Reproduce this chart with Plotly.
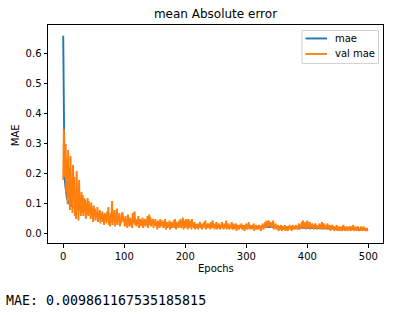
import plotly.graph_objects as go

val_mae = [
    0.18, 0.35, 0.27, 0.19, 0.30, 0.14, 0.25, 0.10, 0.28, 0.12,
    0.22, 0.08, 0.26, 0.10, 0.17, 0.07, 0.23, 0.12, 0.19, 0.06,
    0.15, 0.05, 0.21, 0.09, 0.13, 0.045, 0.18, 0.08, 0.12, 0.06,
    0.14, 0.07, 0.13, 0.06, 0.12, 0.08, 0.115, 0.05, 0.10, 0.065,
    0.12, 0.06, 0.11, 0.07, 0.09, 0.05, 0.105, 0.065, 0.08, 0.04,
    0.095, 0.06, 0.085, 0.045, 0.075, 0.055, 0.09, 0.04, 0.07, 0.05,
    0.08, 0.035, 0.065, 0.055, 0.075, 0.04, 0.06, 0.03, 0.07, 0.045,
    0.065, 0.035, 0.075, 0.05, 0.09, 0.03, 0.06, 0.025, 0.07, 0.04,
    0.11, 0.03, 0.065, 0.045, 0.08, 0.025, 0.055, 0.04, 0.085, 0.03,
    0.06, 0.045, 0.07, 0.025, 0.05, 0.035, 0.065, 0.072, 0.055, 0.04,
    0.045, 0.025, 0.06, 0.03, 0.05, 0.02, 0.065, 0.035, 0.04, 0.025,
    0.055, 0.03, 0.045, 0.02, 0.07, 0.035, 0.06, 0.075, 0.03, 0.05,
    0.025, 0.045, 0.035, 0.06, 0.02, 0.04, 0.05, 0.025, 0.045, 0.03,
    0.055, 0.02, 0.04, 0.035, 0.05, 0.025, 0.045, 0.03, 0.06, 0.02,
    0.04, 0.065, 0.03, 0.055, 0.025, 0.045, 0.035, 0.05, 0.02, 0.04,
    0.03, 0.05, 0.025, 0.04, 0.015, 0.045, 0.03, 0.035, 0.02, 0.05,
    0.025, 0.04, 0.03, 0.045, 0.02, 0.035, 0.025, 0.05, 0.015, 0.03,
    0.04, 0.02, 0.035, 0.025, 0.045, 0.015, 0.03, 0.04, 0.02, 0.035,
    0.025, 0.045, 0.02, 0.05, 0.03, 0.015, 0.04, 0.025, 0.035, 0.02,
    0.045, 0.025, 0.05, 0.02, 0.04, 0.03, 0.055, 0.015, 0.035, 0.045,
    0.02, 0.05, 0.025, 0.045, 0.015, 0.05, 0.02, 0.04, 0.03, 0.045,
    0.015, 0.05, 0.025, 0.035, 0.02, 0.04, 0.015, 0.03, 0.025, 0.02,
    0.035, 0.015, 0.03, 0.025, 0.04, 0.02, 0.03, 0.015, 0.035, 0.025,
    0.02, 0.04, 0.025, 0.045, 0.015, 0.03, 0.02, 0.035, 0.025, 0.02,
    0.035, 0.015, 0.04, 0.02, 0.03, 0.045, 0.02, 0.035, 0.015, 0.03,
    0.025, 0.04, 0.015, 0.03, 0.02, 0.035, 0.025, 0.015, 0.03, 0.02,
    0.04, 0.02, 0.03, 0.015, 0.035, 0.025, 0.02, 0.045, 0.015, 0.03,
    0.02, 0.035, 0.015, 0.025, 0.03, 0.02, 0.04, 0.015, 0.025, 0.035,
    0.015, 0.03, 0.02, 0.035, 0.01, 0.025, 0.02, 0.03, 0.015, 0.025,
    0.03, 0.02, 0.035, 0.015, 0.025, 0.02, 0.03, 0.01, 0.025, 0.02,
    0.035, 0.015, 0.025, 0.02, 0.04, 0.015, 0.03, 0.02, 0.025, 0.015,
    0.03, 0.02, 0.035, 0.01, 0.025, 0.02, 0.03, 0.015, 0.02, 0.025,
    0.015, 0.03, 0.02, 0.025, 0.01, 0.03, 0.02, 0.035, 0.015, 0.025,
    0.02, 0.04, 0.025, 0.045, 0.02, 0.04, 0.03, 0.045, 0.025, 0.035,
    0.04, 0.02, 0.035, 0.025, 0.045, 0.015, 0.03, 0.02, 0.035, 0.015,
    0.025, 0.02, 0.03, 0.01, 0.025, 0.015, 0.02, 0.03, 0.01, 0.02,
    0.025, 0.015, 0.02, 0.03, 0.01, 0.025, 0.015, 0.02, 0.01, 0.025,
    0.02, 0.03, 0.015, 0.025, 0.01, 0.02, 0.03, 0.015, 0.02, 0.025,
    0.015, 0.03, 0.02, 0.025, 0.015, 0.02, 0.035, 0.015, 0.025, 0.02,
    0.03, 0.04, 0.02, 0.045, 0.025, 0.035, 0.02, 0.04, 0.015, 0.03,
    0.045, 0.02, 0.035, 0.025, 0.04, 0.015, 0.03, 0.025, 0.035, 0.02,
    0.03, 0.015, 0.025, 0.035, 0.02, 0.03, 0.015, 0.025, 0.02, 0.03,
    0.035, 0.015, 0.03, 0.02, 0.04, 0.015, 0.025, 0.035, 0.02, 0.03,
    0.015, 0.03, 0.02, 0.035, 0.015, 0.025, 0.02, 0.03, 0.01, 0.025,
    0.02, 0.03, 0.015, 0.025, 0.01, 0.02, 0.025, 0.015, 0.03, 0.01,
    0.02, 0.015, 0.025, 0.01, 0.02, 0.015, 0.025, 0.01, 0.02, 0.03,
    0.015, 0.025, 0.01, 0.02, 0.015, 0.025, 0.01, 0.02, 0.015, 0.025,
    0.02, 0.01, 0.025, 0.015, 0.02, 0.03, 0.01, 0.02, 0.015, 0.025,
    0.01, 0.02, 0.015, 0.025, 0.01, 0.02, 0.015, 0.01, 0.025, 0.015,
    0.02, 0.01, 0.025, 0.015, 0.02, 0.01, 0.015, 0.02, 0.01, 0.015,
]
val_epochs = list(range(len(val_mae)))

mae_epochs = [0, 1, 2, 3, 4, 5, 6, 7, 8, 9, 10, 15, 20, 25, 30, 35, 40, 45, 50,
              55, 60, 65, 70, 75, 80, 85, 90, 95, 100, 110, 120, 130, 140, 150,
              160, 170, 180, 190, 200, 220, 240, 260, 280, 300, 320, 340, 360,
              380, 400, 420, 440, 460, 480, 499]
mae = [0.66, 0.30, 0.21, 0.17, 0.15, 0.13, 0.12, 0.115, 0.11, 0.105, 0.10,
       0.093, 0.088, 0.083, 0.079, 0.077, 0.073, 0.071, 0.068, 0.065, 0.063,
       0.060, 0.058, 0.056, 0.054, 0.052, 0.050, 0.049, 0.047, 0.044, 0.042,
       0.040, 0.038, 0.036, 0.035, 0.034, 0.032, 0.031, 0.030, 0.029, 0.028,
       0.027, 0.026, 0.025, 0.024, 0.023, 0.022, 0.021, 0.020, 0.019, 0.018,
       0.017, 0.017, 0.016]

series_names = ["mae", "val mae"]
series_colors = ["#1f77b4", "#ff7f0e"]
title = "mean Absolute error"
x_label = "Epochs"
y_label = "MAE"
note = "MAE: 0.009861167535185815"
x_ticks = [0, 100, 200, 300, 400, 500]
y_ticks = [0.0, 0.1, 0.2, 0.3, 0.4, 0.5, 0.6]

W, H = 415, 315
L, R, T, B = 48, 383, 24.5, 243
pw, ph = R - L, B - T
font = "DejaVu Sans"


def px(xp):
    return (xp - L) / pw


def py(yp):
    return (B - yp) / ph


fig = go.Figure()
fig.add_trace(go.Scatter(x=mae_epochs, y=mae, mode="lines", name=series_names[0],
                         line=dict(color=series_colors[0], width=1.9)))
fig.add_trace(go.Scatter(x=val_epochs, y=val_mae, mode="lines", name=series_names[1],
                         line=dict(color=series_colors[1], width=1.9)))

axis_common = dict(showline=True, mirror=True, linecolor="black", linewidth=1,
                   ticks="outside", ticklen=3.5, tickwidth=0.8, tickcolor="black",
                   showgrid=False, zeroline=False,
                   tickfont=dict(family=font, size=10, color="black"))
fig.update_xaxes(range=[-24.95, 523.95], tickvals=x_ticks,
                 ticktext=[str(v) for v in x_ticks], **axis_common)
fig.update_yaxes(range=[-0.030, 0.696], tickvals=y_ticks,
                 ticktext=["%.1f" % v for v in y_ticks], **axis_common)

fig.update_layout(
    width=W, height=H,
    margin=dict(l=L, r=W - R, t=T, b=H - B, pad=0),
    paper_bgcolor="white", plot_bgcolor="white",
    showlegend=False,
    title=dict(text=title, x=(L + R) / 2 / W, xanchor="center",
               y=1 - 14 / H, yanchor="middle", yref="container",
               font=dict(family=font, size=12, color="black")),
)

# legend box (drawn manually to match the compact matplotlib legend)
fig.add_shape(type="rect", xref="paper", yref="paper",
              x0=px(302), x1=px(378.5), y0=py(63), y1=py(30),
              line=dict(color="#d0d0d0", width=1), fillcolor="rgba(255,255,255,0.85)",
              layer="above")
for i, (name, color) in enumerate(zip(series_names, series_colors)):
    yy = 38 + i * 15.5
    fig.add_shape(type="line", xref="paper", yref="paper",
                  x0=px(305.5), x1=px(327), y0=py(yy), y1=py(yy),
                  line=dict(color=color, width=1.9), layer="above")
    fig.add_annotation(text=name, xref="paper", yref="paper",
                       x=px(333), y=py(yy), xanchor="left", yanchor="middle",
                       showarrow=False,
                       font=dict(family=font, size=10, color="black"))

fig.add_annotation(text=x_label, xref="paper", yref="paper",
                   x=0.5, y=py(269), xanchor="center", yanchor="middle",
                   showarrow=False, font=dict(family=font, size=10, color="black"))
fig.add_annotation(text=y_label, xref="paper", yref="paper",
                   x=px(15), y=py(135), xanchor="center", yanchor="middle",
                   textangle=-90, showarrow=False,
                   font=dict(family=font, size=10, color="black"))
fig.add_annotation(text=note, xref="paper", yref="paper",
                   x=px(4), y=py(301), xanchor="left", yanchor="middle",
                   showarrow=False,
                   font=dict(family="DejaVu Sans Mono", size=13.3, color="black"))

fig.write_html("out.html")
